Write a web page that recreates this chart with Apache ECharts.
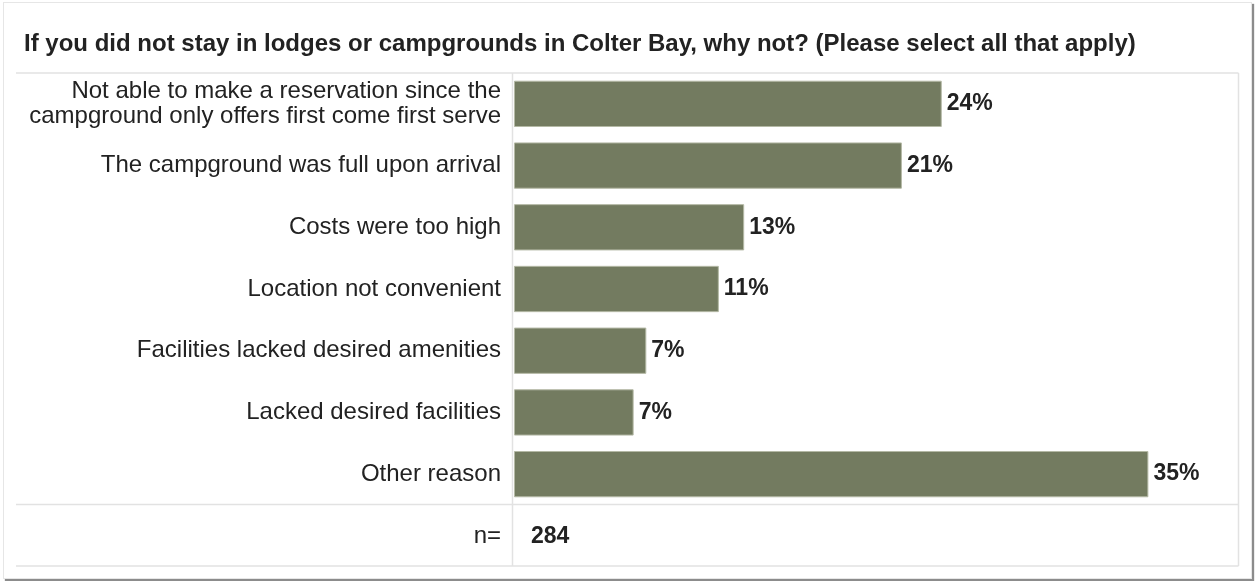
<!DOCTYPE html>
<html>
<head>
<meta charset="utf-8">
<script src="https://cdn.jsdelivr.net/npm/echarts@6/dist/echarts.min.js"></script>
<style>
  html, body { margin: 0; padding: 0; background: #ffffff; }
  #frame {
    position: absolute; left: 3px; top: 2px; width: 1247px; height: 575px;
    border: 1px solid #e6e6e6; box-shadow: 2px 2px 1px #8c8c8c; background: #ffffff;
  }
  #chart { position: absolute; left: 0; top: 0; width: 1255px; height: 581px; }
</style>
</head>
<body>
<div id="frame"></div>
<div id="chart"></div>
<script>
// Survey responses: reasons for not staying in Colter Bay lodges or campgrounds
const categories = [
  'Not able to make a reservation since the\ncampground only offers first come first serve',
  'The campground was full upon arrival',
  'Costs were too high',
  'Location not convenient',
  'Facilities lacked desired amenities',
  'Lacked desired facilities',
  'Other reason'
];
const percentages = [23.6, 21.4, 12.7, 11.3, 7.3, 6.6, 35.0];
const sampleSize = 284;
const titleText = 'If you did not stay in lodges or campgrounds in Colter Bay, why not? (Please select all that apply)';

// table layout
const GRID_LEFT = 514, GRID_TOP = 73, GRID_W = 725, GRID_H = 432;
const TABLE_LEFT = 16, TABLE_RIGHT = 1238.5, SEP_X = 512.5, TABLE_BOTTOM = 566;
const LINE_COLOR = '#e2e2e2';
const FONT = '"Liberation Sans", Arial, sans-serif';
const TEXT_COLOR = '#222222';

function hLine(y, x1, x2) {
  return { type: 'line', silent: true, shape: { x1: x1, y1: y, x2: x2, y2: y },
           style: { stroke: LINE_COLOR, lineWidth: 1.5 } };
}
function vLine(x, y1, y2) {
  return { type: 'line', silent: true, shape: { x1: x, y1: y1, x2: x, y2: y2 },
           style: { stroke: LINE_COLOR, lineWidth: 1.5 } };
}

const chart = echarts.init(document.getElementById('chart'), null, { renderer: 'canvas' });
chart.setOption({
  backgroundColor: 'transparent',
  animation: false,
  title: {
    text: titleText,
    left: 19, top: 27,
    textStyle: { fontFamily: FONT, fontSize: 24, fontWeight: 'bold', color: TEXT_COLOR }
  },
  grid: { left: GRID_LEFT, top: GRID_TOP, width: GRID_W, height: GRID_H, containLabel: false },
  xAxis: { type: 'value', min: 0, max: 40, show: false },
  yAxis: {
    type: 'category', inverse: true, data: categories,
    axisLine: { show: false }, axisTick: { show: false }, splitLine: { show: false },
    axisLabel: { margin: 13, fontFamily: FONT, fontSize: 24, color: TEXT_COLOR, lineHeight: 25, align: 'right' }
  },
  series: [{
    type: 'bar',
    data: percentages,
    barCategoryGap: '25%',
    itemStyle: { color: '#737b60', borderColor: '#b4b9a5', borderWidth: 1 },
    label: {
      show: true, position: 'right', distance: 5,
      fontFamily: FONT, fontSize: 23, fontWeight: 'bold', color: TEXT_COLOR,
      formatter: function (p) { return Math.round(p.value) + '%'; }
    }
  }],
  graphic: [
    hLine(GRID_TOP, TABLE_LEFT, TABLE_RIGHT),
    hLine(GRID_TOP + GRID_H - 0.5, TABLE_LEFT, TABLE_RIGHT),
    hLine(TABLE_BOTTOM, TABLE_LEFT, TABLE_RIGHT),
    vLine(SEP_X, GRID_TOP, TABLE_BOTTOM),
    vLine(TABLE_RIGHT, GRID_TOP, TABLE_BOTTOM),
    { type: 'text', silent: true, x: 501, y: 536,
      style: { text: 'n=', align: 'right', verticalAlign: 'middle', font: '24px ' + FONT, fill: TEXT_COLOR } },
    { type: 'text', silent: true, x: 531, y: 537,
      style: { text: String(sampleSize), align: 'left', verticalAlign: 'middle', font: 'bold 23px ' + FONT, fill: TEXT_COLOR } }
  ]
});
</script>
</body>
</html>
